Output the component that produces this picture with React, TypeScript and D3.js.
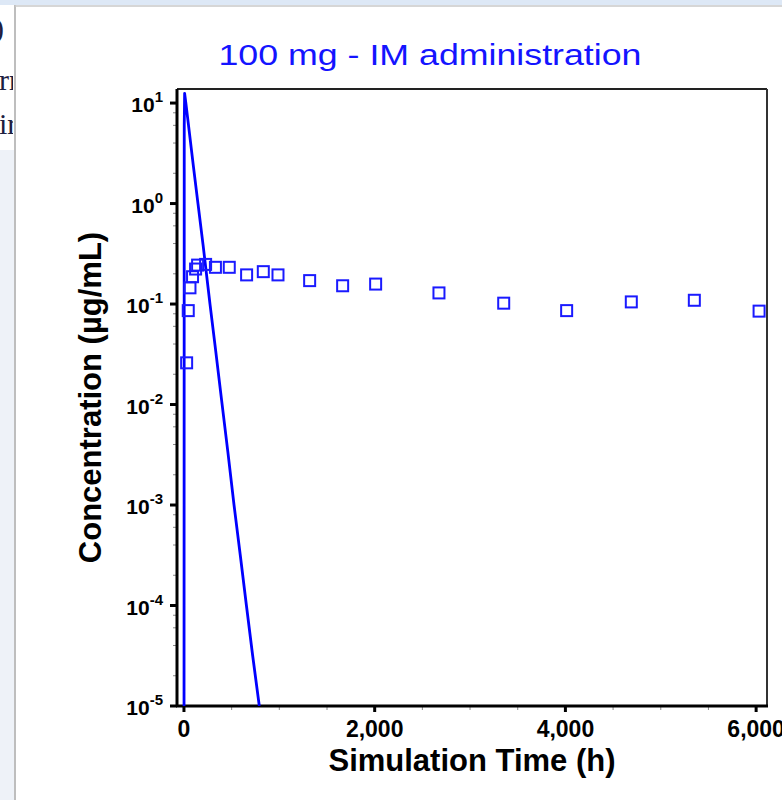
import React from "react";
import * as d3 from "d3";

// Observed concentrations (squares)
const obsTime = [28, 45, 63, 90, 122, 143, 227, 330, 475, 657, 832, 986, 1318, 1664, 2010, 2674, 3353, 4013, 4691, 5352, 6031];
const obsConc = [0.026, 0.086, 0.145, 0.187, 0.223, 0.244, 0.248, 0.232, 0.232, 0.195, 0.21, 0.195, 0.171, 0.152, 0.158, 0.129, 0.102, 0.086, 0.105, 0.109, 0.085];

// Simulated concentration (line)
const simTime = [0, 3, 7, 20, 60, 100, 147, 200, 273, 330, 395, 460, 525, 590, 655, 720, 790];
const simConc = [1e-7, 6, 12.5, 10, 4.8, 2.3, 1, 0.39, 0.1, 0.036, 0.011, 0.0034, 0.001, 0.00032, 0.0001, 0.000032, 0.00001];

const xMajorTicks = [0, 2000, 4000, 6000];
const xMajorLabels = ["0", "2,000", "4,000", "6,000"];
const yExponents = [-5, -4, -3, -2, -1, 0, 1];
const yMinorMult = [2, 4, 6, 8];

const titleText = "100 mg - IM administration";
const xLabel = "Simulation Time (h)";
const yLabel = "Concentration (µg/mL)";

const W = 782;
const H = 800;
const plot = { left: 177, right: 767, top: 89, bottom: 706 };
const FONT = "'Liberation Sans', Arial, Helvetica, sans-serif";

export default function App() {
  const x = d3.scaleLinear().domain([-73, 6114]).range([plot.left, plot.right]);
  const y = d3.scaleLog().domain([1e-5, 13.8]).range([plot.bottom, plot.top]);

  const lineData = simTime.map((t, i) => [t, simConc[i]] as [number, number]);
  const line = d3
    .line<[number, number]>()
    .x((d) => x(d[0]))
    .y((d) => y(d[1]));

  const xMinor = d3.range(500, 6000, 500).filter((v) => v % 2000 !== 0);
  const yMinor: number[] = [];
  yExponents.forEach((e) => {
    yMinorMult.forEach((m) => {
      const v = m * Math.pow(10, e);
      if (v <= 13.8) yMinor.push(v);
    });
  });

  const sq = 11;

  return (
    <svg
      width={W}
      height={H}
      style={{ position: "absolute", left: 0, top: 0, background: "#fff" }}
    >
      {/* page chrome */}
      <rect x={0} y={0} width={W} height={5} fill="#dde8f6" />
      <rect x={0} y={150} width={14} height={H - 150} fill="#eef2f8" />
      <line x1={15} y1={5} x2={15} y2={H} stroke="#a8a8a8" strokeWidth={1.5} />
      <line x1={15} y1={6} x2={W} y2={6} stroke="#c8c8c8" strokeWidth={1.5} />
      <defs>
        <clipPath id="leftclip">
          <rect x={0} y={5} width={13} height={145} />
        </clipPath>
        <clipPath id="plotclip">
          <rect x={plot.left} y={plot.top} width={plot.right - plot.left} height={plot.bottom - plot.top} />
        </clipPath>
      </defs>
      <g clipPath="url(#leftclip)" fontFamily="'Liberation Serif', 'Times New Roman', serif" fontSize={30} fill="#1c2040">
        <text x={-6} y={38}>)</text>
        <text x={-1} y={90}>rn</text>
        <text x={-1} y={134}>ir</text>
      </g>

      {/* title */}
      <text
        x={430}
        y={65}
        textAnchor="middle"
        fontFamily={FONT}
        fontSize={29}
        fill="#1414ff"
        textLength={423}
        lengthAdjust="spacingAndGlyphs"
      >
        {titleText}
      </text>

      {/* frame */}
      <line x1={plot.left} y1={plot.top} x2={plot.right} y2={plot.top} stroke="#222" strokeWidth={2} />
      <line x1={plot.right} y1={plot.top} x2={plot.right} y2={plot.bottom} stroke="#333" strokeWidth={2} />

      {/* minor ticks */}
      {xMinor.map((v) => (
        <line key={"xm" + v} x1={x(v)} x2={x(v)} y1={plot.bottom} y2={plot.bottom + 4} stroke="#888" strokeWidth={1} />
      ))}
      {yMinor.map((v, i) => (
        <line key={"ym" + i} x1={plot.left - 4} x2={plot.left} y1={y(v)} y2={y(v)} stroke="#888" strokeWidth={1} />
      ))}

      {/* major ticks */}
      {xMajorTicks.map((v) => (
        <line key={"xt" + v} x1={x(v)} x2={x(v)} y1={plot.bottom} y2={plot.bottom + 6} stroke="#000" strokeWidth={3} />
      ))}
      {yExponents.map((e) => (
        <line key={"yt" + e} x1={plot.left - 7} x2={plot.left} y1={y(Math.pow(10, e))} y2={y(Math.pow(10, e))} stroke="#000" strokeWidth={3} />
      ))}

      {/* axis lines */}
      <line x1={plot.left} y1={plot.top} x2={plot.left} y2={plot.bottom + 1} stroke="#000" strokeWidth={3} />
      <line x1={plot.left - 1} y1={plot.bottom} x2={plot.right + 1} y2={plot.bottom} stroke="#000" strokeWidth={3} />

      {/* data */}
      <g clipPath="url(#plotclip)">
        <path d={line(lineData) || ""} fill="none" stroke="#0000ff" strokeWidth={2.8} strokeLinejoin="round" />
      </g>
      {obsTime.map((t, i) => (
        <rect
          key={"o" + i}
          x={x(t) - sq / 2}
          y={y(obsConc[i]) - sq / 2}
          width={sq}
          height={sq}
          fill="none"
          stroke="#1a1aff"
          strokeWidth={2}
        />
      ))}

      {/* tick labels */}
      {xMajorTicks.map((v, i) => (
        <text
          key={"xl" + v}
          x={x(v)}
          y={737}
          textAnchor="middle"
          fontFamily={FONT}
          fontWeight="bold"
          fontSize={23}
          fill="#000"
        >
          {xMajorLabels[i]}
        </text>
      ))}
      {yExponents.map((e) => (
        <text
          key={"yl" + e}
          x={163}
          y={y(Math.pow(10, e)) + 9}
          textAnchor="end"
          fontFamily={FONT}
          fontWeight="bold"
          fontSize={21}
          fill="#000"
        >
          10
          <tspan fontSize={15} dy={-10}>
            {String(e)}
          </tspan>
        </text>
      ))}

      {/* axis titles */}
      <text
        x={472}
        y={771}
        textAnchor="middle"
        fontFamily={FONT}
        fontWeight="bold"
        fontSize={31}
        fill="#000"
      >
        {xLabel}
      </text>
      <text
        transform={`translate(101, ${(plot.top + plot.bottom) / 2}) rotate(-90)`}
        textAnchor="middle"
        fontFamily={FONT}
        fontWeight="bold"
        fontSize={31}
        fill="#000"
      >
        {yLabel}
      </text>
    </svg>
  );
}
